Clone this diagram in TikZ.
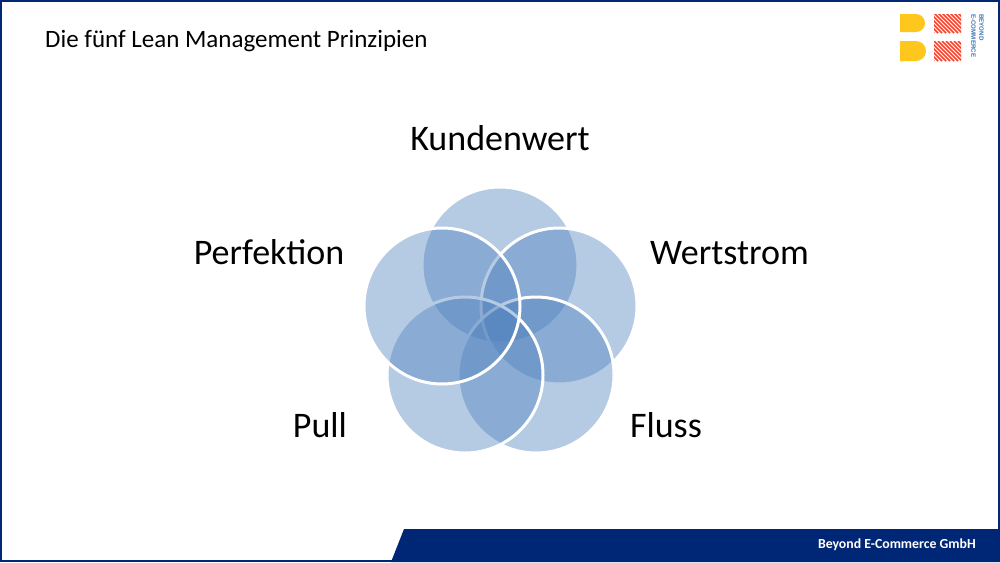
\documentclass[tikz,border=0pt]{standalone}
\usepackage{fontspec}
\setmainfont{Carlito}
\newfontfamily\logofont{Liberation Sans}
\definecolor{navy}{HTML}{002776}
\definecolor{petal}{HTML}{4F81BD}
\definecolor{logoY}{HTML}{FFC71E}
\definecolor{logoR}{HTML}{F4432C}
\definecolor{logoB}{HTML}{3F74B5}
\tikzset{
  petalc/.style={draw=white,line width=3pt,fill=petal,fill opacity=.42,circle,minimum size=156pt,inner sep=0pt},
  biglabel/.style={font=\fontsize{36}{38}\selectfont,text=black,inner sep=0pt,anchor=base},
  hatch/.style={draw=logoR,line width=1.7pt}
}
\begin{document}
\begin{tikzpicture}[x=1pt,y=-1pt]
\useasboundingbox (0,0) rectangle (1000,562);
\fill[white] (0,0) rectangle (1000,562);
% footer band
\fill[navy] (404,529) -- (1000,529) -- (1000,562) -- (391,562) -- cycle;
\draw[navy,line width=2pt] (1,1) rectangle (999,561);
% petals
\node[petalc] (top) at (500,265) {};
\node[petalc] (right) at (559,306) {};
\node[petalc] (br) at (536,375) {};
\node[petalc] (bl) at (465,375) {};
\node[petalc] (left) at (442,306) {};
% labels
\node[inner sep=0pt,anchor=base west,font=\fontsize{25}{28}\selectfont] (title) at (45,47) {Die fünf Lean Management Prinzipien};
\node[biglabel] (kw) at (500,150) {Kundenwert};
\node[biglabel] (ws) at (729.5,264) {Wertstrom};
\node[biglabel] (fl) at (666,437) {Fluss};
\node[biglabel] (pu) at (320,437.5) {Pull};
\node[biglabel] (pe) at (269,264) {Perfektion};
\node[inner sep=0pt,anchor=base east,text=white,font=\bfseries\fontsize{13.8}{15}\selectfont] (foot) at (976,548) {Beyond E-Commerce GmbH};
% logo
\fill[logoY] (900,14) -- (916,14) arc[start angle=-90,end angle=90,radius=9pt,y radius=-9pt] -- (900,32) -- cycle;
\fill[logoY] (900,41) -- (916,41) arc[start angle=-90,end angle=90,radius=10pt,y radius=-10pt] -- (900,61) -- cycle;
\begin{scope}
\clip (934,14) rectangle (961,33);
\foreach \k in {0,4,...,52} \draw[hatch] (934+\k,33) -- (934+\k-20,13);
\end{scope}
\begin{scope}
\clip (934,41) rectangle (961,61);
\foreach \k in {0,4,...,52} \draw[hatch] (934+\k,61) -- (934+\k-20,41);
\end{scope}
\node[rotate=-90,anchor=north west,inner sep=0pt,align=left,text=logoB,font=\logofont\bfseries\fontsize{6.2}{8}\selectfont] (logo) at (984,14) {BEYOND\\E-COMMERCE};
\end{tikzpicture}
\end{document}
